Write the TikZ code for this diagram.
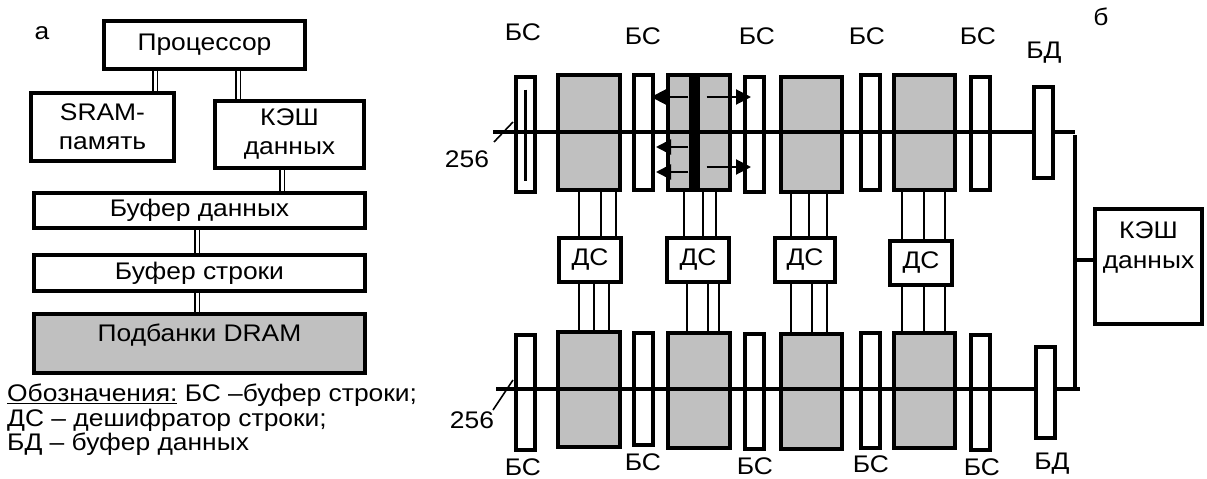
\documentclass[tikz,border=0pt]{standalone}
\usepackage{fontspec}
\setmainfont{Liberation Sans}[FakeStretch=1.1]
\usetikzlibrary{arrows.meta,calc}
\definecolor{bankgray}{HTML}{C0C0C0}
\pgfdeclarelayer{bg}
\pgfsetlayers{bg,main}
\begin{document}
\begin{tikzpicture}[x=1pt,y=-1pt,
  every node/.append style={font=\fontsize{24}{29}\selectfont},
  box/.style={draw,line width=4pt,fill=white,inner sep=0pt,outer sep=0pt,align=center},
  bsbox/.style={box,minimum width=19pt,minimum height=115pt},
  bdbox/.style={box,minimum width=19pt,minimum height=91pt},
  bank/.style={box,fill=bankgray,minimum width=62pt,minimum height=115pt},
  dsbox/.style={box,minimum width=62pt,minimum height=44pt},
  lbl/.style={inner sep=0pt},
  dbl/.style={double,double distance=3pt,line width=1.5pt},
  wire/.style={line width=1.4pt},
  bus/.style={line width=3.5pt},
  arr/.style={line width=2pt,-{Triangle[length=15pt,width=15pt]}}]
\useasboundingbox (0,0) rectangle (1207,479);

% ---------- part a ----------
\node[lbl] (la) at (42,33) {а};
\node[box,minimum width=201pt,minimum height=48pt] (proc) at (204.5,45) {Процессор};
\node[box,minimum width=143pt,minimum height=68pt] (sram) at (102.5,127) {SRAM-\\память};
\node[box,minimum width=149pt,minimum height=67pt] (kesh) at (289.5,134.5) {КЭШ\\данных};
\node[box,minimum width=331pt,minimum height=35pt] (bd) at (199.5,210.5) {Буфер данных};
\node[box,minimum width=331pt,minimum height=36pt] (bstr) at (199.5,273) {Буфер строки};
\node[box,fill=bankgray,minimum width=331pt,minimum height=59pt] (dram) at (199.5,343.5) {};
\node[lbl] (dramlbl) at ([yshift=8pt]dram.center) {Подбанки DRAM};

\begin{pgfonlayer}{bg}
\draw[dbl] ([xshift=52.5pt]sram.north) -- ([xshift=52.5pt]sram.north |- proc.south);
\draw[dbl] ([xshift=-51.5pt]kesh.north) -- ([xshift=-51.5pt]kesh.north |- proc.south);
\draw[dbl] ([xshift=-7.5pt]kesh.south) -- ([xshift=-7.5pt]kesh.south |- bd.north);
\draw[dbl] ([xshift=-2.5pt]bd.south) -- ([xshift=-2.5pt]bd.south |- bstr.north);
\draw[dbl] ([xshift=-2.5pt]bstr.south) -- ([xshift=-2.5pt]bstr.south |- dram.north);
\end{pgfonlayer}

\node[lbl,anchor=west] (leg1) at (7,395) {\underline{Обозначения:} БС –буфер строки;};
\node[lbl,anchor=west] (leg2) at (7,420) {ДС – дешифратор строки;};
\node[lbl,anchor=west] (leg3) at (7,444) {БД – буфер данных};

% ---------- part b ----------
\node[lbl] (lb) at (1101,17) {б};
% top row
\node[bsbox] (tbs1) at (525.5,134) {};
\node[bank]  (tb1)  at (589,132.5) {};
\node[bsbox] (tbs2) at (643.5,132.5) {};
\node[bank]  (tb2)  at (699,132.5) {};
\node[bsbox] (tbs3) at (754.5,134) {};
\node[bank,minimum width=61pt]  (tb3)  at (811.5,134) {};
\node[bsbox] (tbs4) at (870,132.5) {};
\node[bank,minimum width=61pt]  (tb4)  at (924.5,132.5) {};
\node[bsbox,minimum height=113pt] (tbs5) at (980.5,133.5) {};
\node[bdbox] (tbd)  at (1043.5,132.5) {};
\node[fill=black,inner sep=0pt,minimum width=11pt,minimum height=117pt] (bar) at (694,132.5) {};
\draw[line width=3pt] ($(tbs1.north)+(0,13)$) -- ($(tbs1.south)+(0,-11)$);

% decoders
\node[dsbox] (ds1) at (590,260) {ДС};
\node[dsbox] (ds2) at (698,260) {ДС};
\node[dsbox,minimum width=60pt] (ds3) at (805,260) {ДС};
\node[dsbox] (ds4) at (921,263) {ДС};

% bottom row
\node[bsbox] (bbs1) at (525.5,392) {};
\node[bank]  (bb1)  at (589,389) {};
\node[bsbox,minimum height=112pt] (bbs2) at (643.5,389) {};
\node[bank]  (bb2)  at (699,390) {};
\node[bsbox] (bbs3) at (754.5,391.5) {};
\node[bank,minimum width=61pt]  (bb3)  at (811.5,391.5) {};
\node[bsbox] (bbs4) at (870,390.5) {};
\node[bank,minimum width=61pt]  (bb4)  at (924.5,390) {};
\node[bsbox] (bbs5) at (980.5,392) {};
\node[bdbox] (bbd)  at (1045,392) {};

% cache
\node[box,minimum width=107pt,minimum height=115pt] (kesh2) at (1148.5,266.5) {};
\node[lbl,align=center,font=\fontsize{24}{30}\selectfont] (kesh2lbl) at ([yshift=19pt]kesh2.center) {КЭШ\\данных};

% wires between banks and decoders
\begin{pgfonlayer}{bg}
\foreach \x in {579,601,616}{\draw[wire] (\x,0 |- tb1.south) -- (\x,0 |- ds1.north);}
\foreach \x in {579,594,609}{\draw[wire] (\x,0 |- ds1.south) -- (\x,0 |- bb1.north);}
\foreach \x in {684,703,716}{\draw[wire] (\x,0 |- tb2.south) -- (\x,0 |- ds2.north);}
\foreach \x in {687,708,719}{\draw[wire] (\x,0 |- ds2.south) -- (\x,0 |- bb2.north);}
\foreach \x in {791,809,827}{\draw[wire] (\x,0 |- tb3.south) -- (\x,0 |- ds3.north);}
\foreach \x in {791,812,827}{\draw[wire] (\x,0 |- ds3.south) -- (\x,0 |- bb3.north);}
\foreach \x in {902,924,945}{\draw[wire] (\x,0 |- tb4.south) -- (\x,0 |- ds4.north);}
\foreach \x in {902,924,945}{\draw[wire] (\x,0 |- ds4.south) -- (\x,0 |- bb4.north);}
\end{pgfonlayer}

% buses
\coordinate (tbusL) at (493,132);
\coordinate (bbusL) at (496,389);
\coordinate (tstub) at (1075,132);
\coordinate (bstub) at (1080,389);
\coordinate (vtop) at (1075,135);
\coordinate (vbot) at (1075,389);
\coordinate (vbr) at (1075,260);
\draw[bus] (tbusL) -- (tbusL -| tbd.west);
\draw[bus] (bbusL) -- (bbusL -| bbd.west);
\draw[bus] (tbusL -| tbd.east) -- (tstub);
\draw[bus] (bbusL -| bbd.east) -- (bstub);
\draw[bus] (vtop) -- (vbot);
\draw[bus] (vbr) -- (vbr -| kesh2.west);

% 256 slashes
\coordinate (s1a) at (494,142); \coordinate (s1b) at (513,122);
\coordinate (s2a) at (493,410); \coordinate (s2b) at (513,380);
\draw[line width=1.6pt] (s1a) -- (s1b);
\draw[line width=1.6pt] (s2a) -- (s2b);
\node[lbl] (n256a) at (467,159) {256};
\node[lbl] (n256b) at (472,420) {256};

% arrows from the selected row
\coordinate (a1) at (651,97);
\coordinate (a2) at (656,147);
\coordinate (a3) at (656,172);
\coordinate (a4) at (751,97);
\coordinate (a5) at (751,167);
\draw[arr] (bar.west |- a1) -- (a1);
\draw[arr] (bar.west |- a2) -- (a2);
\draw[arr] (bar.west |- a3) -- (a3);
\draw[arr] ([xshift=7pt]bar.east |- a4) -- (a4);
\draw[arr] ([xshift=7pt]bar.east |- a5) -- (a5);

% labels
\node[lbl] (t1) at (523,32) {БС};
\node[lbl] (t2) at (643,36) {БС};
\node[lbl] (t3) at (757,36) {БС};
\node[lbl] (t4) at (867,36) {БС};
\node[lbl] (t5) at (978,36) {БС};
\node[lbl] (t6) at (1044,53) {БД};
\node[lbl] (u1) at (523,467) {БС};
\node[lbl] (u2) at (643,462) {БС};
\node[lbl] (u3) at (755,466) {БС};
\node[lbl] (u4) at (871,464) {БС};
\node[lbl] (u5) at (982,467) {БС};
\node[lbl] (u6) at (1052,464) {БД};
\end{tikzpicture}
\end{document}
